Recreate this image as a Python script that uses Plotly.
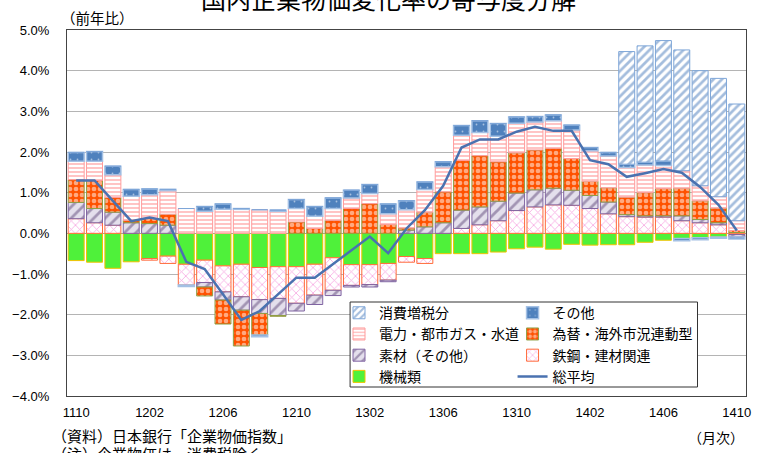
import plotly.graph_objects as go

months = ["1110", "1111", "1112", "1201", "1202", "1203", "1204", "1205", "1206", "1207",
          "1208", "1209", "1210", "1211", "1212", "1301", "1302", "1303", "1304", "1305",
          "1306", "1307", "1308", "1309", "1310", "1311", "1312", "1401", "1402", "1403",
          "1404", "1405", "1406", "1407", "1408", "1409", "1410"]
tick_labels = ["1110", "1202", "1206", "1210", "1302", "1306", "1310", "1402", "1406", "1410"]

kikai = [-0.67, -0.71, -0.86, -0.70, -0.62, -0.56, -0.76, -0.66, -0.80, -0.76,
         -0.84, -0.82, -0.82, -0.76, -0.60, -0.77, -0.77, -0.74, -0.57, -0.62,
         -0.50, -0.50, -0.50, -0.46, -0.38, -0.34, -0.39, -0.27, -0.29, -0.28,
         -0.28, -0.22, -0.17, -0.13, -0.11, -0.09, 0.02]
tekko = [0.36, 0.26, 0.20, 0.00, -0.04, -0.18, -0.51, -0.55, -0.64, -0.80,
         -0.79, -0.78, -0.90, -0.76, -0.80, -0.51, -0.49, -0.41, -0.14, -0.12,
         0.00, 0.12, 0.21, 0.31, 0.56, 0.65, 0.70, 0.69, 0.61, 0.48,
         0.41, 0.40, 0.40, 0.31, 0.26, 0.21, -0.03]
sozai = [0.40, 0.35, 0.32, 0.26, 0.24, 0.20, 0.00, -0.11, -0.20, -0.33,
         -0.34, -0.42, -0.19, -0.23, -0.13, -0.04, -0.06, -0.04, 0.08, 0.16,
         0.26, 0.45, 0.44, 0.48, 0.43, 0.42, 0.41, 0.37, 0.32, 0.29,
         0.05, 0.03, 0.03, 0.12, 0.08, 0.05, -0.06]
kawase = [0.56, 0.69, 0.36, 0.06, 0.13, 0.27, 0.00, -0.22, -0.59, -0.88,
          -0.53, -0.02, 0.28, 0.12, 0.32, 0.61, 0.73, 0.22, 0.05, 0.36,
          0.76, 1.22, 1.26, 0.97, 0.99, 0.98, 0.98, 0.78, 0.35, 0.35,
          0.43, 0.57, 0.67, 0.68, 0.46, 0.36, 0.05]
denryoku = [0.45, 0.47, 0.56, 0.59, 0.58, 0.58, 0.61, 0.54, 0.59, 0.59,
            0.58, 0.54, 0.33, 0.30, 0.29, 0.26, 0.25, 0.26, 0.45, 0.56,
            0.62, 0.62, 0.57, 0.63, 0.73, 0.69, 0.68, 0.70, 0.75, 0.78,
            0.73, 0.68, 0.57, 0.43, 0.37, 0.28, 0.24]
sonota = [0.22, 0.24, 0.21, 0.17, 0.14, 0.03, -0.04, 0.12, 0.13, 0.02,
          -0.04, 0.03, 0.22, 0.24, 0.26, 0.19, 0.22, 0.24, 0.22, 0.18,
          0.12, 0.24, 0.29, 0.31, 0.15, 0.13, 0.14, 0.12, 0.08, 0.09,
          0.08, 0.07, 0.11, -0.05, -0.05, -0.03, -0.05]
zouzei = [0.0] * 30 + [2.77, 2.86, 2.96, 2.97, 2.83, 2.91, 2.87]
sou_heikin = [1.30, 1.30, 0.80, 0.30, 0.39, 0.30, -0.70, -0.88, -1.50, -2.13,
              -1.91, -1.50, -1.09, -1.09, -0.76, -0.42, -0.08, -0.49, 0.12, 0.57,
              1.17, 2.11, 2.31, 2.31, 2.50, 2.62, 2.52, 2.52, 1.80, 1.70,
              1.39, 1.48, 1.58, 1.49, 1.14, 0.70, 0.07]

JP = "Noto Sans CJK JP"
LAT = "Liberation Sans, Arial, sans-serif"

fig = go.Figure()

def add_bar(name, vals, fill, pattern, line_color, legend, rank, line_width=1.0):
    fig.add_trace(go.Bar(
        x=months, y=vals, name=name,
        marker=dict(color=fill, pattern=pattern, line=dict(color=line_color, width=line_width)),
        legend=legend, legendrank=rank,
    ))

add_bar("機械類", kikai, "#4ff13a", dict(shape=""), "#f2c200", "legend", 4)
add_bar("鉄鋼・建材関連", tekko, "white",
        dict(shape="x", fgcolor="#ee50c4", bgcolor="white", size=6, solidity=0.25),
        "#ff6a3a", "legend2", 3)
add_bar("素材（その他）", sozai, "#e4dfec",
        dict(shape="/", fgcolor="#5f497a", bgcolor="#e4dfec", size=8, solidity=0.35),
        "#8064a2", "legend", 3)
add_bar("為替・海外市況連動型", kawase, "#ff5200",
        dict(shape=".", fgcolor="white", bgcolor="#ff5200", size=6, solidity=0.48),
        "#8f9f45", "legend2", 2)
add_bar("電力・都市ガス・水道", denryoku, "white",
        dict(shape="-", fgcolor="#ff3a3a", bgcolor="white", size=4, solidity=0.3),
        "#ff9c9c", "legend", 2)
add_bar("その他", sonota, "#4f81bd",
        dict(shape=".", fgcolor="white", bgcolor="#4f81bd", size=7, solidity=0.05),
        "#a3c0e4", "legend2", 1, 1.5)
add_bar("消費増税分", zouzei, "white",
        dict(shape="/", fgcolor="#4a7cbb", bgcolor="white", size=6, solidity=0.45),
        "#7ea6d8", "legend", 1)

fig.add_trace(go.Scatter(
    x=months, y=sou_heikin, name="総平均", mode="lines",
    line=dict(color="#4a72b0", width=2.5), legend="legend2", legendrank=4,
))

# plot area: x 61..747, y 30..396
legend_common = dict(bgcolor="rgba(0,0,0,0)", borderwidth=0,
                     font=dict(family=JP, size=14, color="#000"),
                     xanchor="left", yanchor="top", traceorder="normal",
                     itemclick=False, itemdoubleclick=False)

fig.update_layout(
    width=763, height=453,
    margin=dict(l=61, r=16, t=30, b=57),
    paper_bgcolor="white", plot_bgcolor="white",
    barmode="relative", bargap=0.13,
    showlegend=True,
    legend=dict(x=0.4006, y=0.270, **legend_common),
    legend2=dict(x=0.6562, y=0.270, **legend_common),
    font=dict(family=LAT, size=13, color="#000"),
    xaxis=dict(
        type="category", tickmode="array", tickvals=tick_labels, ticktext=tick_labels,
        showgrid=False, showline=True, mirror=True, linecolor="#444", linewidth=1.2,
        ticks="", ticklabelstandoff=4, tickfont=dict(family=LAT, size=13),
    ),
    yaxis=dict(
        range=[-4, 5], dtick=1, tickformat=".1f", ticksuffix="%",
        showgrid=True, gridcolor="#b4b4b4", gridwidth=1,
        zeroline=True, zerolinecolor="#a0a0a0", zerolinewidth=1,
        showline=True, mirror=True, linecolor="#444", linewidth=1.2,
        ticks="", ticklabelstandoff=14, tickfont=dict(family=LAT, size=13),
    ),
    shapes=[dict(type="rect", xref="paper", yref="paper",
                 x0=(347 - 61) / 686, x1=(698 - 61) / 686,
                 y0=(396 - 387) / 366, y1=(396 - 302) / 366,
                 line=dict(color="#333", width=1), fillcolor="white", layer="above")],
    annotations=[
        dict(text="国内企業物価変化率の寄与度分解", xref="paper", yref="paper",
             x=(386 - 61) / 686, y=(396 + 2) / 366, xanchor="center", yanchor="middle",
             showarrow=False, font=dict(family=JP, size=25, color="#000")),
        dict(text="（前年比）", xref="paper", yref="paper",
             x=(53 - 61) / 686, y=(396 - 17.5) / 366, xanchor="left", yanchor="middle",
             showarrow=False, font=dict(family=JP, size=14.5, color="#000")),
        dict(text="（資料）日本銀行「企業物価指数」", xref="paper", yref="paper",
             x=(44 - 61) / 686, y=(396 - 436) / 366, xanchor="left", yanchor="middle",
             showarrow=False, font=dict(family=JP, size=15, color="#000")),
        dict(text="（注）企業物価は、消費税除く", xref="paper", yref="paper",
             x=(44 - 61) / 686, y=(396 - 453) / 366, xanchor="left", yanchor="middle",
             showarrow=False, font=dict(family=JP, size=15, color="#000")),
        dict(text="（月次）", xref="paper", yref="paper",
             x=(747 - 61) / 686, y=(396 - 437) / 366, xanchor="right", yanchor="middle",
             showarrow=False, font=dict(family=JP, size=14, color="#000")),
    ],
)

fig.write_html("out.html", config={"displayModeBar": False},
               post_script="document.body.style.margin='0px';document.body.style.overflow='hidden';")
